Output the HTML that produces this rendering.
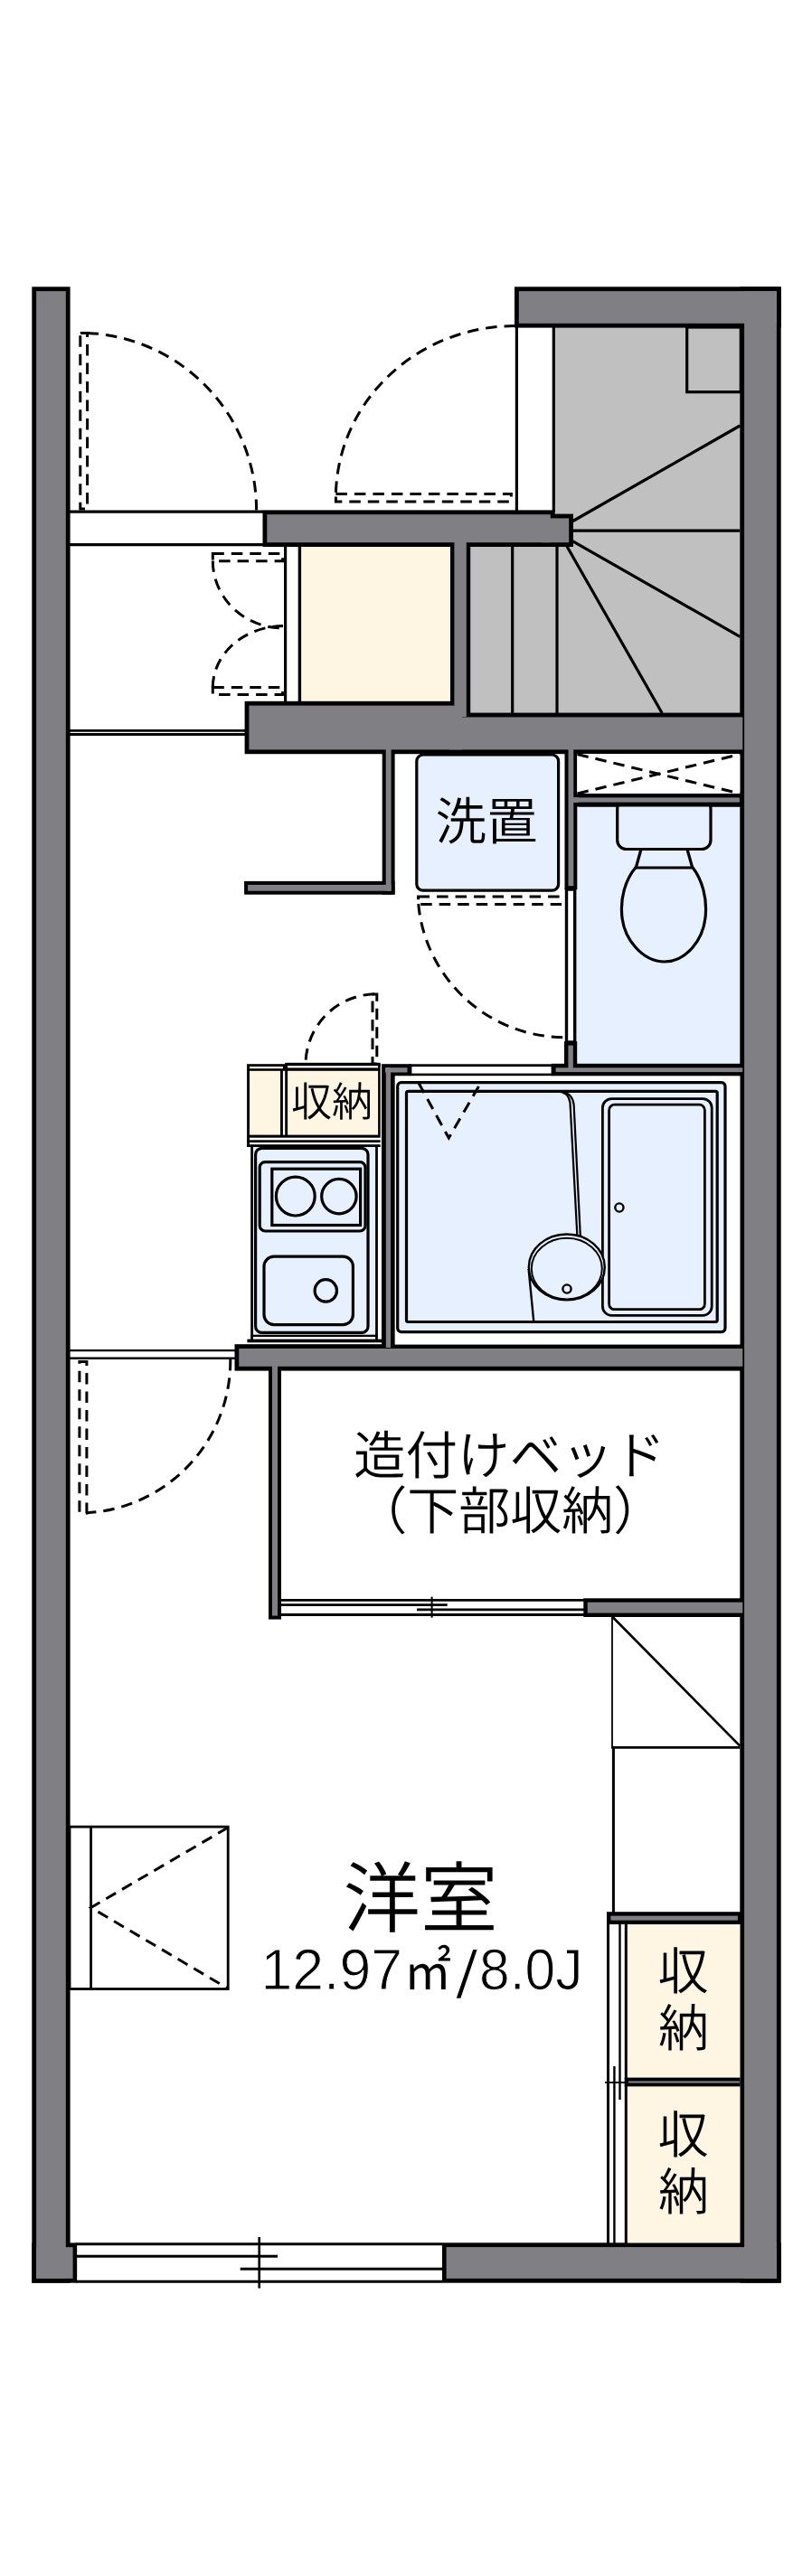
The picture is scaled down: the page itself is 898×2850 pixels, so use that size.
<!DOCTYPE html>
<html lang="ja">
<head>
<meta charset="utf-8">
<title>間取り図</title>
<style>
html,body{margin:0;padding:0;background:#fff;}
body{width:898px;height:2850px;overflow:hidden;}
svg{display:block;will-change:transform;}
text{text-rendering:geometricPrecision;font-family:"Liberation Sans","Noto Sans CJK JP",sans-serif;font-weight:350;fill:#000;}
.n{font-weight:400;stroke:#fff;stroke-width:1px;}
.s{font-weight:400;stroke:#fff;stroke-width:2.2px;}
.m{font-weight:400;}
</style>
</head>
<body>
<svg width="898" height="2850" viewBox="0 0 898 2850">
<rect x="0" y="0" width="898" height="2850" fill="#fff"/>
<!-- room fills -->
<rect x="612" y="360" width="208" height="250" fill="#c0c0c0"/>
<rect x="518" y="600" width="302" height="192" fill="#c0c0c0"/>
<rect x="331.4" y="603" width="169.6" height="175" fill="#fff5e3"/>
<rect x="636" y="890" width="184" height="290" fill="#e6f0ff"/>
<!-- walls -->
<rect x="35.3" y="317.3" width="42.3" height="2208.4" fill="#000"/>
<rect x="35.3" y="2481.4" width="50.1" height="44.3" fill="#000"/>
<rect x="569" y="317.3" width="294.7" height="45.3" fill="#000"/>
<rect x="818.3" y="317.3" width="45.4" height="2208.4" fill="#000"/>
<rect x="488.8" y="2481.3" width="374.9" height="44.4" fill="#000"/>
<rect x="290.5" y="564.4" width="323.1" height="40.6" fill="#000"/>
<rect x="600" y="568.6" width="34" height="36.4" fill="#000"/>
<rect x="498" y="600" width="22.2" height="192" fill="#000"/>
<rect x="270.6" y="775.8" width="239.4" height="58.4" fill="#000"/>
<rect x="497.8" y="788.6" width="322.5" height="45.6" fill="#000"/>
<rect x="422.7" y="830" width="13.9" height="159.7" fill="#000"/>
<rect x="270.1" y="974.9" width="166.5" height="14.8" fill="#000"/>
<rect x="624.5" y="830" width="13.8" height="154.2" fill="#000"/>
<rect x="634" y="877.6" width="186.3" height="14.9" fill="#000"/>
<rect x="610.1" y="1176.8" width="210.2" height="13.8" fill="#000"/>
<rect x="624" y="1152.2" width="14.2" height="28.8" fill="#000"/>
<rect x="422" y="1177.2" width="32.5" height="13.3" fill="#000"/>
<rect x="422" y="1182" width="14.8" height="308" fill="#000"/>
<rect x="259.5" y="1487.2" width="560.8" height="29.4" fill="#000"/>
<rect x="297" y="1512" width="14" height="279.6" fill="#000"/>
<rect x="645.3" y="1768.3" width="175" height="20.7" fill="#000"/>
<rect x="671" y="2115.2" width="149.3" height="13.8" fill="#000"/>
<rect x="40.1" y="322.1" width="32.7" height="2198.8" fill="#808084"/>
<rect x="40.1" y="2486.2" width="40.5" height="34.7" fill="#808084"/>
<rect x="573.8" y="322.1" width="285.1" height="35.7" fill="#808084"/>
<rect x="823.1" y="322.1" width="35.8" height="2198.8" fill="#808084"/>
<rect x="493.6" y="2486.1" width="365.3" height="34.8" fill="#808084"/>
<rect x="295.3" y="569.2" width="313.5" height="31" fill="#808084"/>
<rect x="599" y="573.4" width="30.2" height="26.8" fill="#808084"/>
<rect x="502.4" y="599" width="13.4" height="194" fill="#808084"/>
<rect x="275.4" y="780.6" width="235.6" height="48.8" fill="#808084"/>
<rect x="496.8" y="793.4" width="324.5" height="36" fill="#808084"/>
<rect x="426.7" y="829" width="5.9" height="156.7" fill="#808084"/>
<rect x="274.1" y="978.9" width="158.5" height="6.8" fill="#808084"/>
<rect x="628.5" y="829" width="5.8" height="151.2" fill="#808084"/>
<rect x="633" y="882.2" width="182.7" height="5.7" fill="#808084"/>
<rect x="614.6" y="1181.3" width="206.7" height="4.8" fill="#808084"/>
<rect x="628.4" y="1156.6" width="5.4" height="25.4" fill="#808084"/>
<rect x="426" y="1181.2" width="24.5" height="5.3" fill="#808084"/>
<rect x="426.8" y="1181" width="5.2" height="310" fill="#808084"/>
<rect x="264.3" y="1492" width="557" height="19.8" fill="#808084"/>
<rect x="301" y="1511" width="6" height="276.6" fill="#808084"/>
<rect x="649.7" y="1772.7" width="171.6" height="11.9" fill="#808084"/>
<rect x="675.4" y="2119.6" width="140.5" height="5" fill="#808084"/>
<!-- entrance -->
<line x1="76.6" y1="566.2" x2="291" y2="566.2" stroke="#000" stroke-width="3.2"/>
<line x1="76.6" y1="602.6" x2="291" y2="602.6" stroke="#000" stroke-width="3.2"/>
<rect x="88.8" y="368.4" width="7.8" height="194.6" fill="none" stroke="#000" stroke-width="3.0" stroke-dasharray="12.5 8"/>
<path d="M 96.6 368.4 A 196 196 0 0 1 283.6 564.6" fill="none" stroke="#000" stroke-width="3.0" stroke-dasharray="12.5 8"/>
<rect x="371.4" y="546.6" width="194" height="8.4" fill="none" stroke="#000" stroke-width="3.0" stroke-dasharray="12.5 8"/>
<path d="M 570 360.6 A 198 190 0 0 0 371.4 546.6" fill="none" stroke="#000" stroke-width="3.0" stroke-dasharray="12.5 8"/>
<line x1="571.4" y1="362" x2="571.4" y2="566" stroke="#000" stroke-width="3.2"/>
<line x1="612.3" y1="362" x2="612.3" y2="567" stroke="#000" stroke-width="3.2"/>
<rect x="759.7" y="362" width="59.6" height="71.7" fill="none" stroke="#000" stroke-width="3.2"/>
<line x1="633.6" y1="576.5" x2="818.3" y2="471" stroke="#000" stroke-width="3.2"/>
<line x1="633.6" y1="587.1" x2="818.3" y2="587.1" stroke="#000" stroke-width="3.2"/>
<line x1="632.7" y1="598.4" x2="818.3" y2="704.3" stroke="#000" stroke-width="3.2"/>
<line x1="626.3" y1="603.3" x2="732.2" y2="789" stroke="#000" stroke-width="3.2"/>
<line x1="566.7" y1="604" x2="566.7" y2="790" stroke="#000" stroke-width="3.2"/>
<line x1="616" y1="604" x2="616" y2="790" stroke="#000" stroke-width="3.2"/>
<line x1="315.6" y1="604" x2="315.6" y2="777" stroke="#000" stroke-width="3.2"/>
<line x1="331.4" y1="604" x2="331.4" y2="777" stroke="#000" stroke-width="3.4"/>
<rect x="235.3" y="612.6" width="77.3" height="8.2" fill="none" stroke="#000" stroke-width="3.0" stroke-dasharray="12.5 8"/>
<rect x="235.3" y="760.4" width="77.3" height="8.2" fill="none" stroke="#000" stroke-width="3.0" stroke-dasharray="12.5 8"/>
<path d="M 235.3 620.4 A 78 74.5 0 0 0 313 695" fill="none" stroke="#000" stroke-width="3.0" stroke-dasharray="12.5 8"/>
<path d="M 235.3 760.6 A 78 68 0 0 1 313 692.6" fill="none" stroke="#000" stroke-width="3.0" stroke-dasharray="12.5 8"/>
<line x1="76.6" y1="808.4" x2="271" y2="808.4" stroke="#000" stroke-width="2.6"/>
<line x1="76.6" y1="812.5" x2="271" y2="812.5" stroke="#000" stroke-width="2.8"/>
<!-- laundry -->
<rect x="460.8" y="835" width="156.8" height="150.2" fill="#e6f0ff" stroke="#000" stroke-width="3.2" rx="7"/>
<rect x="638.3" y="834" width="180" height="44.5" fill="#fff"/>
<line x1="638.5" y1="834.5" x2="818.3" y2="878" stroke="#000" stroke-width="3.0" stroke-dasharray="12.5 8"/>
<line x1="638.5" y1="878" x2="818.3" y2="834.5" stroke="#000" stroke-width="3.0" stroke-dasharray="12.5 8"/>
<rect x="682.7" y="885" width="103.3" height="54.5" fill="#e6f0ff" stroke="#000" stroke-width="3.2" rx="10"/>
<rect x="640" y="878" width="179.3" height="14.5" fill="#000"/>
<rect x="634" y="882.4" width="183.9" height="5.2" fill="#808084"/>
<path d="M 709 939.5 L 703 961 M 760 939.5 L 766 961 M 703.5 960 L 765.5 960" fill="none" stroke="#000" stroke-width="3.2"/>
<path d="M 703.5 959 C 690 975 687 995 687.5 1008 C 688 1040 712 1064 735 1064 C 758 1064 780 1040 780.5 1008 C 781 995 778 975 765.5 959" fill="none" stroke="#000" stroke-width="3.2"/>
<rect x="626.5" y="984" width="9.2" height="169" fill="#fff" stroke="#000" stroke-width="3.4"/>
<rect x="462.6" y="992" width="157" height="8.6" fill="none" stroke="#000" stroke-width="3.0" stroke-dasharray="12.5 8"/>
<path d="M 462.7 1000 A 162.6 162.6 0 0 0 624.7 1147.7" fill="none" stroke="#000" stroke-width="3.0" stroke-dasharray="12.5 8"/>
<rect x="454" y="1178.7" width="157" height="10.3" fill="#fff" stroke="#000" stroke-width="2.8"/>
<rect x="412" y="1100" width="4.8" height="77" fill="none" stroke="#000" stroke-width="3.0" stroke-dasharray="12.5 8"/>
<path d="M 414 1099.8 A 78 78 0 0 0 338 1177" fill="none" stroke="#000" stroke-width="3.0" stroke-dasharray="12.5 8"/>
<!-- storage -->
<rect x="273.1" y="1177.2" width="147.6" height="81.5" fill="#000"/>
<rect x="315.2" y="1175.8" width="105.5" height="4.2" fill="#000"/>
<rect x="276" y="1180" width="36.9" height="2.2" fill="#fff"/>
<rect x="318.1" y="1179.2" width="100" height="2.2" fill="#fff"/>
<rect x="276" y="1184.8" width="34" height="70.8" fill="#fff5e3"/>
<rect x="312.9" y="1184.8" width="2.3" height="70.8" fill="#fff"/>
<rect x="318.1" y="1184.8" width="100" height="70.8" fill="#fff5e3"/>
<rect x="273.1" y="1261.3" width="147.6" height="2.7" fill="#000"/>
<rect x="273.1" y="1266.2" width="147.6" height="2.8" fill="#000"/>
<rect x="273.1" y="1258" width="2.9" height="11" fill="#000"/>
<!-- kitchen -->
<rect x="280" y="1269" width="135.1" height="207.7" fill="#e6f0ff"/>
<rect x="277.2" y="1268" width="2.8" height="214" fill="#000"/>
<rect x="415.1" y="1268" width="2.8" height="214" fill="#000"/>
<rect x="277.2" y="1476.7" width="140.7" height="2.4" fill="#000"/>
<rect x="273.4" y="1481.6" width="149" height="3.7" fill="#000"/>
<rect x="282.6" y="1270.4" width="124.4" height="204" fill="#e6f0ff" stroke="#000" stroke-width="3.2" rx="7"/>
<rect x="287.2" y="1285.6" width="116.8" height="76.4" fill="#e6f0ff" stroke="#000" stroke-width="3.2" rx="6"/>
<rect x="300.8" y="1293.2" width="97.8" height="62.3" fill="#e6f0ff" stroke="#000" stroke-width="3.2"/>
<circle cx="326.8" cy="1323.6" r="21.4" fill="none" stroke="#000" stroke-width="3.2"/>
<circle cx="374.9" cy="1323.6" r="19.2" fill="none" stroke="#000" stroke-width="3.2"/>
<rect x="292" y="1390.2" width="98.4" height="75.4" fill="#e6f0ff" stroke="#000" stroke-width="3.2" rx="11"/>
<circle cx="360.3" cy="1427.9" r="12.2" fill="none" stroke="#000" stroke-width="3.2"/>
<!-- bathroom -->
<rect x="436.8" y="1190.5" width="381.5" height="297" fill="#fff"/>
<rect x="439.7" y="1197.7" width="362.3" height="275.9" fill="#e6f0ff" stroke="#000" stroke-width="3.2" rx="4"/>
<rect x="449.5" y="1207.3" width="343.7" height="255.2" fill="#e6f0ff" stroke="#000" stroke-width="3.2" rx="2"/>
<rect x="666.4" y="1215.6" width="120.8" height="239.7" fill="#e6f0ff" stroke="#000" stroke-width="2.8" rx="10"/>
<rect x="673.6" y="1222.2" width="105.8" height="226.5" fill="#e6f0ff" stroke="#000" stroke-width="2.8" rx="6"/>
<circle cx="684.9" cy="1336" r="4.6" fill="none" stroke="#000" stroke-width="2.4"/>
<ellipse cx="626.8" cy="1401.9" rx="42" ry="36.4" fill="#e6f0ff" stroke="#000" stroke-width="2.4"/>
<ellipse cx="626.8" cy="1403.6" rx="39" ry="33.8" fill="none" stroke="#000" stroke-width="2"/>
<circle cx="627" cy="1426" r="4.6" fill="none" stroke="#000" stroke-width="2.4"/>
<path d="M 617 1207.5 Q 628.5 1208 630.5 1220 L 638.3 1366" fill="none" stroke="#000" stroke-width="2.2"/>
<path d="M 623 1208.5 Q 633 1210 634.6 1222 L 641.8 1367" fill="none" stroke="#000" stroke-width="2.2"/>
<path d="M 584.6 1404 L 590.3 1462.5" fill="none" stroke="#000" stroke-width="2.4"/>
<path d="M 462.9 1198 L 496.3 1259 L 531.7 1198" fill="none" stroke="#000" stroke-width="3.0" stroke-dasharray="12.5 8"/>
<!-- room door -->
<line x1="76.6" y1="1494.1" x2="260.5" y2="1494.1" stroke="#000" stroke-width="2.4"/>
<line x1="76.6" y1="1502.8" x2="260.5" y2="1502.8" stroke="#000" stroke-width="2.4"/>
<rect x="87.9" y="1506.5" width="8" height="167.4" fill="none" stroke="#000" stroke-width="3.0" stroke-dasharray="12.5 8"/>
<path d="M 254.8 1504 A 168.5 168.5 0 0 1 95.5 1673.8" fill="none" stroke="#000" stroke-width="3.0" stroke-dasharray="12.5 8"/>
<!-- bed -->
<line x1="310" y1="1770.4" x2="646" y2="1770.4" stroke="#000" stroke-width="2.8"/>
<line x1="310" y1="1786.5" x2="646" y2="1786.5" stroke="#000" stroke-width="2.8"/>
<line x1="310" y1="1775.6" x2="494.7" y2="1775.6" stroke="#000" stroke-width="2.8"/>
<line x1="461" y1="1780.8" x2="646" y2="1780.8" stroke="#000" stroke-width="2.8"/>
<line x1="477.6" y1="1766.6" x2="477.6" y2="1789.7" stroke="#000" stroke-width="2"/>
<line x1="677" y1="1788" x2="677" y2="1934" stroke="#000" stroke-width="1.8"/>
<line x1="678.4" y1="1932" x2="678.4" y2="2116" stroke="#000" stroke-width="3"/>
<line x1="676.2" y1="1933.3" x2="818.3" y2="1933.3" stroke="#000" stroke-width="2.8"/>
<line x1="677.5" y1="1789" x2="818.3" y2="1931.7" stroke="#000" stroke-width="2.6"/>
<!-- closets -->
<rect x="693.8" y="2129" width="124.5" height="169.6" fill="#fff5e3"/>
<rect x="693.8" y="2308.4" width="124.5" height="172.9" fill="#fff5e3"/>
<rect x="690.8" y="2298.6" width="127.5" height="9.8" fill="#000"/>
<rect x="695" y="2302.4" width="122.8" height="2.2" fill="#808084"/>
<line x1="672.5" y1="2128" x2="672.5" y2="2482" stroke="#000" stroke-width="3"/>
<line x1="685.5" y1="2128" x2="685.5" y2="2323" stroke="#000" stroke-width="2.4"/>
<line x1="679.4" y1="2286" x2="679.4" y2="2482" stroke="#000" stroke-width="2.4"/>
<line x1="692.3" y1="2128" x2="692.3" y2="2482" stroke="#000" stroke-width="3"/>
<line x1="669" y1="2304" x2="692" y2="2304" stroke="#000" stroke-width="2"/>
<!-- window -->
<rect x="85.4" y="2481.3" width="403.4" height="44.4" fill="#fff"/>
<line x1="84" y1="2482.7" x2="489" y2="2482.7" stroke="#000" stroke-width="3"/>
<line x1="84" y1="2496.2" x2="307" y2="2496.2" stroke="#000" stroke-width="3"/>
<line x1="265.7" y1="2510.2" x2="489" y2="2510.2" stroke="#000" stroke-width="3"/>
<line x1="84" y1="2524.2" x2="489" y2="2524.2" stroke="#000" stroke-width="3"/>
<line x1="286.7" y1="2475" x2="286.7" y2="2531.6" stroke="#000" stroke-width="2.6"/>
<rect x="77" y="2021.1" width="175.2" height="179.4" fill="none" stroke="#000" stroke-width="2.8"/>
<line x1="100.6" y1="2021" x2="100.6" y2="2200" stroke="#000" stroke-width="2.8"/>
<path d="M 252 2022 L 100.6 2110.5 L 252 2200" fill="none" stroke="#000" stroke-width="3.0" stroke-dasharray="12.5 8"/>
<!-- labels -->
<text x="481.4" y="928.7" font-size="56.5">洗置</text>
<text x="322.1" y="1235.1" font-size="45">収納</text>
<text><tspan x="391.1" y="1630.5" font-size="57.5">造付けベッド</tspan><tspan x="393.3" y="1692.3" font-size="57">（下部収納）</tspan></text>
<text x="379.5" y="2130.9" font-size="85.5">洋室</text>
<text><tspan x="288.5" y="2200.6" font-size="64" class="n" textLength="156.4" lengthAdjust="spacingAndGlyphs">12.97</tspan><tspan x="446.8" y="2201" font-size="56.5" class="m" textLength="52.4" lengthAdjust="spacingAndGlyphs">㎡</tspan><tspan x="503" y="2211.3" font-size="76" class="s" textLength="26.4" lengthAdjust="spacingAndGlyphs">/</tspan><tspan x="530.1" y="2200.6" font-size="64" class="n" textLength="114.4" lengthAdjust="spacingAndGlyphs">8.0J</tspan></text>
<text><tspan x="727.4" y="2201.3" font-size="56">収</tspan><tspan x="727.9" y="2264" font-size="56">納</tspan></text>
<text><tspan x="727.4" y="2381.5" font-size="56">収</tspan><tspan x="727.9" y="2444.9" font-size="56">納</tspan></text>
</svg>
</body>
</html>
